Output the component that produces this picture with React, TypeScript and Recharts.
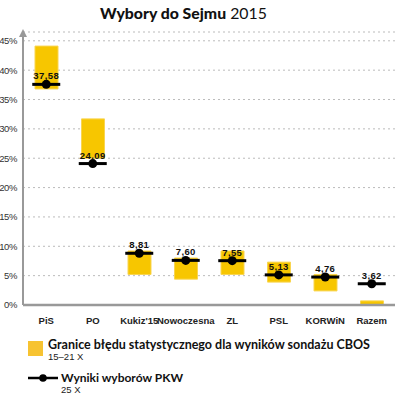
import React from 'react';
import { ComposedChart, Bar, Scatter, XAxis, YAxis, CartesianGrid } from 'recharts';

const parties = ['PiS', 'PO', "Kukiz'15", 'Nowoczesna', 'ZL', 'PSL', 'KORWiN', 'Razem'];
const pollLow = [36.8, 25.0, 5.2, 4.4, 5.2, 3.9, 2.4, 0];
const pollHigh = [44.1, 31.7, 9.2, 8.0, 9.2, 7.3, 5.2, 0.7];
const results = [37.58, 24.09, 8.81, 7.6, 7.55, 5.13, 4.76, 3.62];
const yTicks = [0, 5, 10, 15, 20, 25, 30, 35, 40, 45];

const data = parties.map((name, i) => ({
  name,
  range: [pollLow[i], pollHigh[i]],
  result: results[i],
}));

const YELLOW = '#F7C600';
const fmt = (v: number) => v.toFixed(2).replace('.', ',');

const ResultMarker = (props: any) => {
  const { cx, cy, payload } = props;
  return (
    <g>
      <line x1={cx - 14} x2={cx + 14} y1={cy} y2={cy} stroke="#000" strokeWidth={3} />
      <circle cx={cx} cy={cy} r={4.5} fill="#000" />
      <text x={cx} y={cy - 5} textAnchor="middle" fontSize={9.5} fontWeight={700}
        fontFamily="'Liberation Sans', Arial, sans-serif" letterSpacing={0.4} fill="#111">
        {fmt(payload.result)}
      </text>
    </g>
  );
};

export default function App() {
  return (
    <div style={{ position: 'absolute', left: 0, top: 0, width: 400, height: 398, background: '#fff', fontFamily: "'Liberation Sans', Arial, sans-serif" }}>
      <div style={{ position: 'absolute', left: 100, top: 3, fontSize: 15.8, fontFamily: "Lato, sans-serif", color: '#111', lineHeight: '20px', whiteSpace: 'nowrap' }}>
        <span style={{ fontWeight: 900 }}>Wybory do Sejmu</span> <span style={{ fontWeight: 400 }}>2015</span>
      </div>
      <div style={{ position: 'absolute', left: 0, top: 0 }}>
        <ComposedChart width={400} height={325} data={data} margin={{ top: 32, right: 5, left: 0, bottom: 0 }}>
          <CartesianGrid vertical={false} stroke="#bbb" strokeDasharray="2 3" />
          <XAxis dataKey="name" tickLine={false} axisLine={{ stroke: '#999', strokeWidth: 2.5 }} height={20} interval={0}
            tick={{ fontSize: 9.5, fontWeight: 700, fill: '#222' }} tickMargin={6} />
          <YAxis domain={[0, 46.5]} ticks={yTicks} allowDataOverflow width={23} tickLine={false}
            axisLine={{ stroke: '#999', strokeWidth: 2 }} tickFormatter={(v: number) => `${v}%`}
            tick={{ fontSize: 9.5, fill: '#333', letterSpacing: -0.4 }} tickMargin={0} />
          <Bar dataKey="range" fill={YELLOW} stroke="#F9D550" strokeWidth={1} barSize={23} isAnimationActive={false} />
          <Scatter dataKey="result" shape={ResultMarker} isAnimationActive={false} />
        </ComposedChart>
      </div>
      <svg style={{ position: 'absolute', left: 0, top: 0 }} width={400} height={40}>
        <polygon points="19,37 27,37 23,29" fill="#999" />
      </svg>
      <div style={{ position: 'absolute', left: 28, top: 341, width: 15, height: 15, background: '#F7C331' }} />
      <div style={{ position: 'absolute', left: 48, top: 337, fontSize: 12.5, fontWeight: 700, fontFamily: "Lato, sans-serif", color: '#111', lineHeight: '15px', whiteSpace: 'nowrap' }}>
        Granice błędu statystycznego dla wyników sondażu CBOS
      </div>
      <div style={{ position: 'absolute', left: 48, top: 351, fontSize: 9.5, color: '#222', lineHeight: '11px' }}>15–21 X</div>
      <svg style={{ position: 'absolute', left: 0, top: 368 }} width={70} height={20}>
        <line x1={28} x2={58} y1={10} y2={10} stroke="#000" strokeWidth={2.5} />
        <circle cx={43} cy={10} r={3.8} fill="#000" />
      </svg>
      <div style={{ position: 'absolute', left: 61, top: 370, fontSize: 12, fontWeight: 700, fontFamily: "Lato, sans-serif", color: '#111', lineHeight: '15px', whiteSpace: 'nowrap' }}>
        Wyniki wyborów PKW
      </div>
      <div style={{ position: 'absolute', left: 61, top: 384, fontSize: 9.5, color: '#222', lineHeight: '11px' }}>25 X</div>
    </div>
  );
}
